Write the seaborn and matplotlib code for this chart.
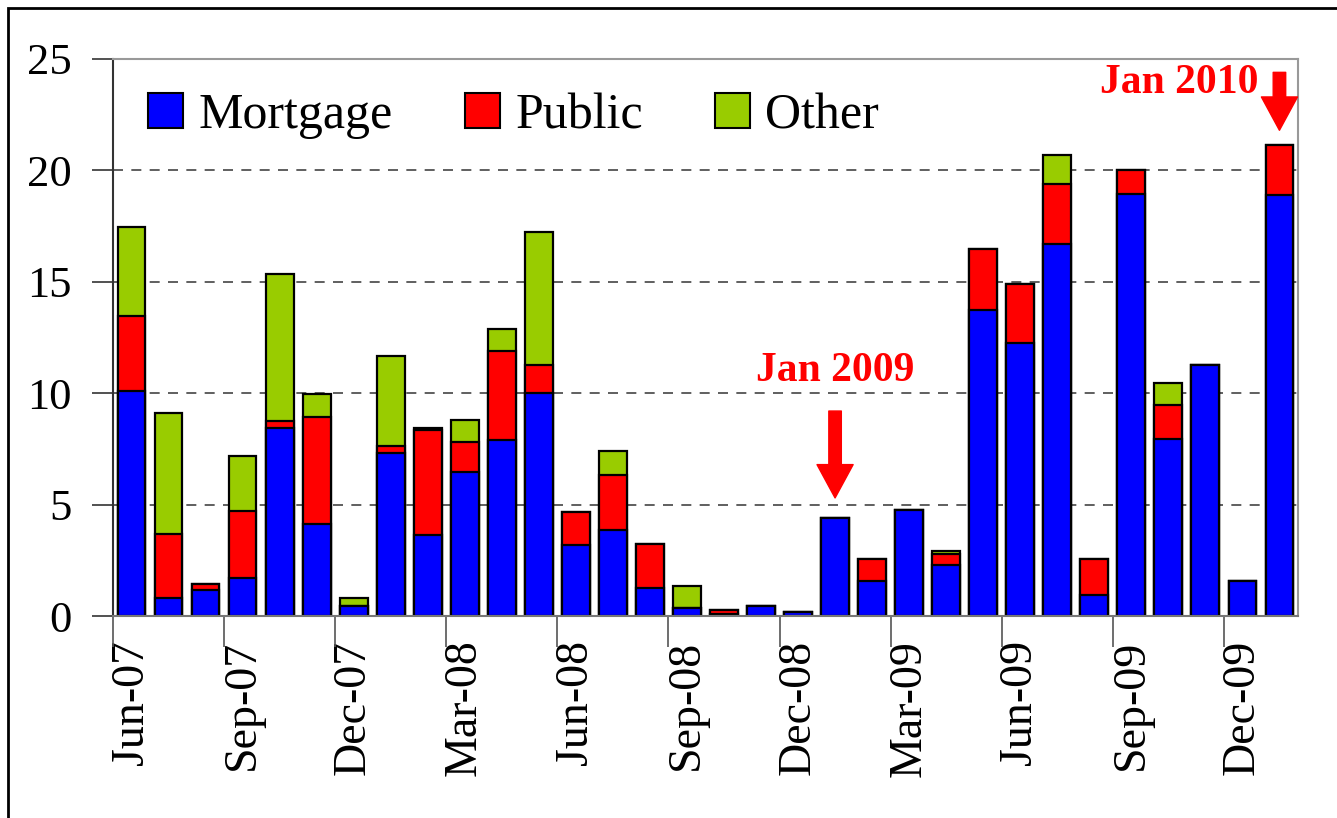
import numpy as np
import pandas as pd
import matplotlib
matplotlib.use('Agg')
import matplotlib.pyplot as plt
from matplotlib.patches import Patch, Rectangle
import seaborn as sns

# ---- data ----
months = ['Jun-07', 'Jul-07', 'Aug-07', 'Sep-07', 'Oct-07', 'Nov-07', 'Dec-07',
          'Jan-08', 'Feb-08', 'Mar-08', 'Apr-08', 'May-08', 'Jun-08', 'Jul-08',
          'Aug-08', 'Sep-08', 'Oct-08', 'Nov-08', 'Dec-08', 'Jan-09', 'Feb-09',
          'Mar-09', 'Apr-09', 'May-09', 'Jun-09', 'Jul-09', 'Aug-09', 'Sep-09',
          'Oct-09', 'Nov-09', 'Dec-09', 'Jan-10']
mortgage = [10.1, 0.8, 1.15, 1.7, 8.45, 4.15, 0.45, 7.3, 3.65, 6.45, 7.9, 10.0,
            3.2, 3.85, 1.25, 0.35, 0.1, 0.45, 0.2, 4.4, 1.55, 4.75, 2.3, 13.75,
            12.25, 16.7, 0.95, 18.95, 7.95, 11.25, 1.55, 18.9]
public = [3.35, 2.9, 0.3, 3.0, 0.3, 4.8, 0.0, 0.35, 4.7, 1.35, 4.0, 1.25,
          1.45, 2.5, 2.0, 0.0, 0.15, 0.0, 0.0, 0.0, 1.0, 0.0, 0.5, 2.7,
          2.65, 2.7, 1.6, 1.05, 1.5, 0.0, 0.0, 2.25]
other = [4.0, 5.4, 0.0, 2.5, 6.6, 1.0, 0.35, 4.0, 0.1, 1.0, 1.0, 6.0,
         0.0, 1.05, 0.0, 1.0, 0.0, 0.0, 0.0, 0.0, 0.0, 0.0, 0.1, 0.0,
         0.0, 1.3, 0.0, 0.0, 1.0, 0.0, 0.0, 0.0]
series = ['Mortgage', 'Public', 'Other']
colors = {'Mortgage': '#0000FF', 'Public': '#FF0000', 'Other': '#99CC00'}

df = pd.DataFrame({'month': months, 'Mortgage': mortgage,
                   'Public': public, 'Other': other})
df['mp'] = df['Mortgage'] + df['Public']
df['total'] = df['mp'] + df['Other']

sns.set_theme(style='white')
plt.rcParams['font.family'] = ['Liberation Serif', 'DejaVu Serif']
plt.rcParams['text.color'] = 'black'
plt.rcParams['xtick.color'] = 'black'
plt.rcParams['ytick.color'] = 'black'

fig = plt.figure(figsize=(13.37, 8.18), dpi=100)
ax = fig.add_axes([0.0845, 0.2469, 0.9708 - 0.0845, 0.9279 - 0.2469])

# stacked bars: draw cumulative totals back to front
bar_kw = dict(order=months, width=0.75, saturation=1, edgecolor='black',
              linewidth=1.6, errorbar=None, ax=ax)
sns.barplot(data=df, x='month', y='total', color=colors['Other'], **bar_kw)
sns.barplot(data=df, x='month', y='mp', color=colors['Public'], **bar_kw)
sns.barplot(data=df, x='month', y='Mortgage', color=colors['Mortgage'], **bar_kw)

ax.set_xlim(-0.5, len(months) - 0.5)
ax.set_ylim(0, 25)
ax.set_yticks(range(0, 26, 5))
ax.yaxis.grid(True, linestyle=(0, (6, 5)), color='#444444', linewidth=1.2)
ax.set_axisbelow(True)
ax.set_xlabel('')
ax.set_ylabel('')

# labels centred on every third bar, tick marks on month boundaries
ax.set_xticks(range(0, len(months), 3))
ax.set_xticklabels(months[::3], rotation=90, fontsize=33)
ax.set_xticks(np.arange(-0.5, len(months) - 1, 3), minor=True)
ax.tick_params(axis='x', which='major', length=0, pad=17)
ax.tick_params(axis='x', which='minor', length=22, width=1.2, color='#555555',
               direction='out', bottom=True)
ax.tick_params(axis='y', length=15, width=1.2, color='#333333', direction='out',
               left=True, labelsize=32, pad=15)

for side in ['top', 'right']:
    ax.spines[side].set_color('#999999')
    ax.spines[side].set_linewidth(1.5)
ax.spines['left'].set_color('#333333')
ax.spines['left'].set_linewidth(1.5)
ax.spines['bottom'].set_color('#777777')
ax.spines['bottom'].set_linewidth(1.5)

handles = [Patch(facecolor=colors[s], edgecolor='black', linewidth=1.5, label=s)
           for s in series]
ax.legend(handles=handles, loc='upper left', bbox_to_anchor=(0.013, 0.975),
          ncol=3, frameon=False, fontsize=36, handlelength=0.7,
          handleheight=0.7, handletextpad=0.3, columnspacing=1.45,
          borderaxespad=0)

# annotations
arrow = dict(arrowstyle='simple,head_length=1.2,head_width=1.3,tail_width=0.45',
             color='#FF0000', mutation_scale=20, shrinkA=0, shrinkB=0)
ax.annotate('', xy=(19, 5.3), xytext=(19, 9.2), arrowprops=arrow)
ax.text(19, 11.0, 'Jan 2009', color='#FF0000', fontsize=30, fontweight='bold',
        ha='center', va='center')
ax.annotate('', xy=(31, 21.8), xytext=(31, 24.4), arrowprops=arrow,
            annotation_clip=False)
ax.text(28.3, 23.9, 'Jan 2010', color='#FF0000', fontsize=30, fontweight='bold',
        ha='center', va='center')

# outer frame of the original graphic
fig.patches.append(Rectangle((8 / 1337, -0.5), 2, 1.5 - 8 / 818,
                             transform=fig.transFigure, fill=False,
                             edgecolor='black', linewidth=2))

fig.savefig('out.png', dpi=100)
